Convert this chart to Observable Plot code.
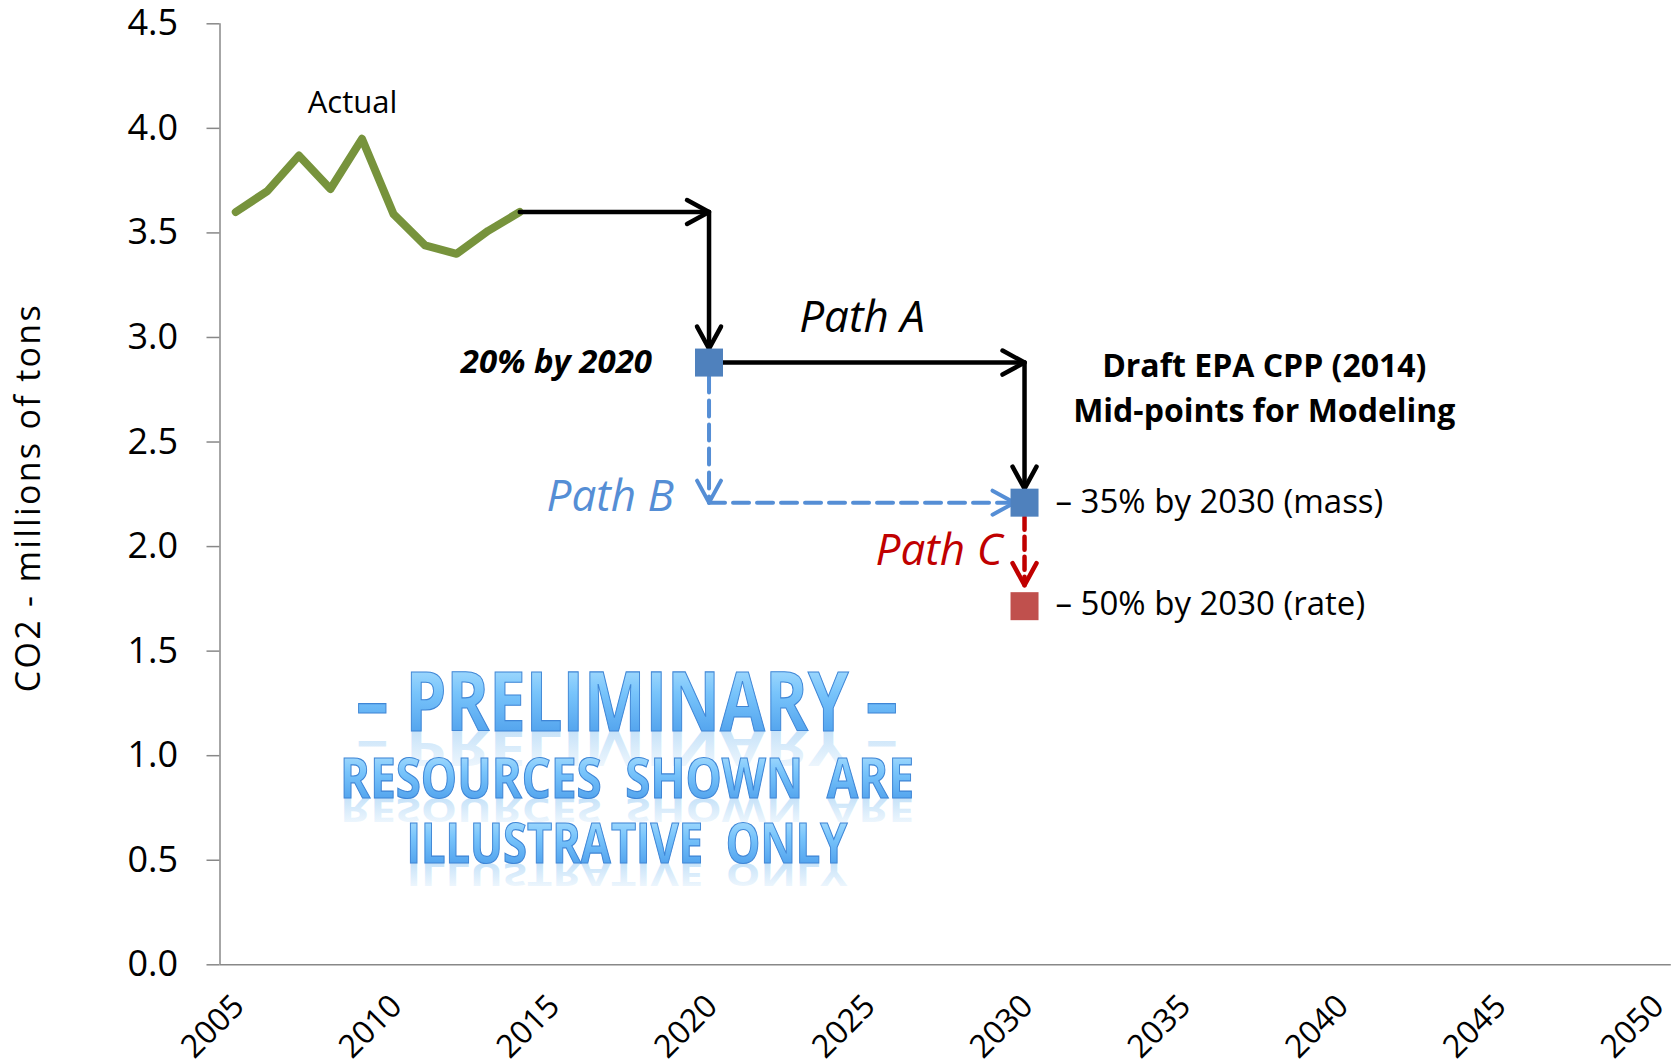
<!DOCTYPE html>
<html><head><meta charset="utf-8">
<script src="https://cdn.jsdelivr.net/npm/d3@7"></script>
<script src="https://cdn.jsdelivr.net/npm/@observablehq/plot@0.6"></script>
<style>html,body{margin:0;padding:0;background:#fff;overflow:hidden}</style>
</head><body><div id="chart"></div>
<script>
// ---- data ----
const actualYears = [2005, 2006, 2007, 2008, 2009, 2010, 2011, 2012, 2013, 2014];
const actualValues = [3.60, 3.70, 3.87, 3.71, 3.95, 3.59, 3.44, 3.40, 3.51, 3.60];

const targetYears = [2020, 2030, 2030];
const targetValues = [2.88, 2.21, 1.715];
const targetKinds = ["interim", "mass", "rate"];

const arrowNames = ["to2020", "to2020", "A", "A", "B", "B", "C"];
const arrowFromYears = [2014, 2020, 2020, 2030, 2020, 2020, 2030];
const arrowFromValues = [3.60, 3.60, 2.88, 2.88, 2.88, 2.21, 2.21];
const arrowToYears = [2020, 2020, 2030, 2030, 2020, 2030, 2030];
const arrowToValues = [3.60, 2.88, 2.88, 2.21, 2.21, 2.21, 1.715];

const noteTexts = ["Actual", "20% by 2020", "Path A", "Path B", "Path C",
  "Draft EPA CPP (2014)", "Mid-points for Modeling", "– 35% by 2030 (mass)", "– 50% by 2030 (rate)"];
const noteYears = [2008.7, 2020, 2024.85, 2020, 2030, 2037.6, 2037.6, 2030, 2030];
const noteValues = [4.12, 2.88, 3.094, 2.238, 1.977, 2.86, 2.645, 2.21, 1.725];

const watermarkLines = ["– PRELIMINARY –", "RESOURCES  SHOWN  ARE", "ILLUSTRATIVE  ONLY"];
const watermarkYear = 2017.4;
const watermarkValues = [1.245, 0.882, 0.573];

const xDomain = [2004.5, 2050.5];
const xTicks = [2005, 2010, 2015, 2020, 2025, 2030, 2035, 2040, 2045, 2050];
const yTicks = [0, 0.5, 1, 1.5, 2, 2.5, 3, 3.5, 4, 4.5];
const yLabel = "CO2 - millions of tons";

// ---- tables ----
const actual = actualYears.map((y, i) => ({year: y, value: actualValues[i]}));
const targets = targetYears.map((y, i) => ({year: y, value: targetValues[i], kind: targetKinds[i]}));
const arrows = arrowNames.map((n, i) => ({name: n, x1: arrowFromYears[i], y1: arrowFromValues[i], x2: arrowToYears[i], y2: arrowToValues[i]}));
const notes = noteTexts.map((t, i) => ({text: t, year: noteYears[i], value: noteValues[i]}));

// ---- styles ----
const arrowStyle = {
  to2020: {stroke: "#000", strokeWidth: 4.5, dash: null},
  A: {stroke: "#000", strokeWidth: 4.5, dash: null},
  B: {stroke: "#558ED5", strokeWidth: 4, dash: "16,8"},
  C: {stroke: "#C00000", strokeWidth: 4.5, dash: "13,7"}
};
const insets = [[0, 0], [0, 14], [14, 0], [0, 14], [14, 0], [0, 10], [14, 21]];
const chevron = {draw(context, l, r) { context.moveTo(-r, 0); context.lineTo(0, -l); context.lineTo(r, 0); }};

function arrowMarks(i) {
  const d = arrows[i];
  const s = arrowStyle[d.name];
  const [is, ie] = insets[i];
  const horizontal = d.y1 === d.y2;
  return [
    Plot.arrow([d], {x1: "x1", y1: "y1", x2: "x2", y2: "y2", stroke: s.stroke, strokeWidth: s.strokeWidth,
      strokeDasharray: s.dash, headLength: 0, insetStart: is, insetEnd: ie}),
    Plot.vector([d], {x: "x2", y: "y2", rotate: horizontal ? 90 : 180, length: 22, r: 12, anchor: "end",
      shape: chevron, stroke: s.stroke, strokeWidth: s.strokeWidth, strokeLinejoin: "round", strokeLinecap: "round",
      dx: horizontal ? -ie : 0, dy: horizontal ? 0 : -ie})
  ];
}

const noteStyle = [
  {fontSize: 31},
  {fontSize: 33, fontWeight: "bold", fontStyle: "italic", textAnchor: "end", dx: -57},
  {fontSize: 44, fontStyle: "italic"},
  {fontSize: 44, fontStyle: "italic", textAnchor: "end", dx: -35, fill: "#558ED5"},
  {fontSize: 44, fontStyle: "italic", textAnchor: "end", dx: -22, fill: "#C00000"},
  {fontSize: 32, fontWeight: "bold"},
  {fontSize: 32, fontWeight: "bold"},
  {fontSize: 33, textAnchor: "start", dx: 31},
  {fontSize: 33, textAnchor: "start", dx: 31}
];
const wmSizes = [82, 56, 55];
const wmLengths = [542, 574, 441];

const markerColor = {interim: "#4F81BD", mass: "#4F81BD", rate: "#C0504D"};

const marks = [
  Plot.ruleY([0], {stroke: "#888", strokeWidth: 1.5}),
  Plot.ruleX([xDomain[0]], {stroke: "#888", strokeWidth: 1.5}),
  Plot.axisY({ticks: yTicks, tickSize: 13, tickPadding: 29, stroke: "#888", strokeWidth: 1.5,
    tickFormat: d3.format(".1f"), fontSize: 36, label: null}),
  Plot.axisX({ticks: xTicks, tickSize: 0, tickRotate: -45, tickPadding: 36, fontSize: 32, dx: 3,
    tickFormat: d => `${d}`, label: null}),
  Plot.text([yLabel], {frameAnchor: "left", rotate: -90, dx: -191, dy: 198, textAnchor: "start", fontSize: 34, ariaDescription: "ylabel"}),
  Plot.line(actual, {x: "year", y: "value", stroke: "#77933C", strokeWidth: 8, strokeLinejoin: "round", strokeLinecap: "round"}),
  ...arrows.flatMap((d, i) => arrowMarks(i)),
  Plot.dot(targets, {x: "year", y: "value", symbol: "square", r: 15.8, fill: d => markerColor[d.kind], stroke: "none"}),
  ...notes.map((d, i) => Plot.text([d], {x: "year", y: "value", text: "text", lineAnchor: "middle", fill: "#000", ...noteStyle[i]})),
  ...watermarkLines.map((t, i) => Plot.text([t], {x: () => watermarkYear, y: () => watermarkValues[i], text: d => d,
    fontSize: wmSizes[i], fontWeight: "bold", lineAnchor: "middle", ariaDescription: "watermark" + i}))
];

const chart = Plot.plot({
  width: 1673, height: 1061,
  marginLeft: 219.5, marginRight: 2.2, marginTop: 23.3, marginBottom: 96.7,
  x: {domain: xDomain, label: null},
  y: {domain: [0, 4.5], label: null},
  style: {fontFamily: "'Open Sans', sans-serif", fontSize: "32px", color: "#000", background: "#fff"},
  marks
});
document.getElementById("chart").appendChild(chart);

// ---- post styling: y label length, watermark gradient and reflection ----
const svgNode = chart.nodeName.toLowerCase() === "svg" ? chart : chart.querySelector("svg");
const svg = d3.select(svgNode);
svg.selectAll('g[aria-description="ylabel"] text').attr("textLength", 387).attr("lengthAdjust", "spacing");
const defs = svg.insert("defs", ":first-child");
const g1 = defs.append("linearGradient").attr("id", "wmFill").attr("x1", 0).attr("y1", 0).attr("x2", 0).attr("y2", 1);
g1.append("stop").attr("offset", "0%").attr("stop-color", "#c8eeff");
g1.append("stop").attr("offset", "45%").attr("stop-color", "#78c4fb");
g1.append("stop").attr("offset", "100%").attr("stop-color", "#3f92e6");
const g2 = defs.append("linearGradient").attr("id", "wmRefl").attr("x1", 0).attr("y1", 0).attr("x2", 0).attr("y2", 1);
g2.append("stop").attr("offset", "0%").attr("stop-color", "#6fb6ef").attr("stop-opacity", 0);
g2.append("stop").attr("offset", "100%").attr("stop-color", "#6fb6ef").attr("stop-opacity", 0.5);
watermarkLines.forEach((_, i) => {
  svg.selectAll(`g[aria-description="watermark${i}"] text`).each(function() {
    const t = d3.select(this);
    t.style("white-space", "pre").attr("textLength", wmLengths[i]).attr("lengthAdjust", "spacingAndGlyphs");
    const b = 0.32 * wmSizes[i];
    const clone = this.cloneNode(true);
    const tr = this.getAttribute("transform") || "";
    d3.select(clone).attr("transform", `${tr} translate(0,${b}) scale(1,-0.6) translate(0,${-b})`)
      .attr("fill", "url(#wmRefl)").attr("stroke", "none");
    this.parentNode.insertBefore(clone, this);
    t.attr("fill", "url(#wmFill)").attr("stroke", "#3f86d6").attr("stroke-width", 1.2);
  });
});
</script>
</body></html>
